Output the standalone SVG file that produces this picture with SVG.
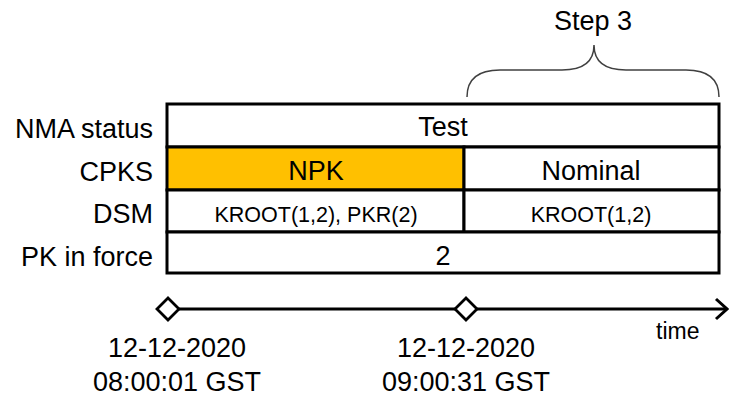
<svg xmlns="http://www.w3.org/2000/svg" width="729" height="397" viewBox="0 0 729 397">
<style>
text{font-family:"Liberation Sans",Arial,sans-serif;fill:#000}
.lbl{font-size:27px;text-anchor:end}
.c{font-size:27px;text-anchor:middle}
.s{font-size:21.5px;text-anchor:middle}
.cell{fill:#fff;stroke:#000;stroke-width:3}
.dia{fill:#fff;stroke:#000;stroke-width:2.8}
</style>
<rect width="729" height="397" fill="#fff"/>
<g id="labels">
<text class="lbl" x="153" y="138">NMA status</text>
<text class="lbl" x="153" y="181">CPKS</text>
<text class="lbl" x="153" y="223">DSM</text>
<text class="lbl" x="153" y="266">PK in force</text>
</g>
<g id="nma-test"><rect class="cell" x="167" y="104" width="552" height="43"/><text class="c" x="443" y="136">Test</text></g>
<g id="cpks-npk"><rect class="cell" x="167" y="147" width="297" height="43" style="fill:#FFC000"/><text class="c" x="316" y="180">NPK</text></g>
<g id="cpks-nominal"><rect class="cell" x="464" y="147" width="255" height="43"/><text class="c" x="591" y="180">Nominal</text></g>
<g id="dsm-left"><rect class="cell" x="167" y="190" width="297" height="42"/><text class="s" x="316" y="222">KROOT(1,2), PKR(2)</text></g>
<g id="dsm-right"><rect class="cell" x="464" y="190" width="255" height="42"/><text class="s" x="591" y="222">KROOT(1,2)</text></g>
<g id="pk-2"><rect class="cell" x="167" y="232" width="552" height="41"/><text class="c" x="443" y="265">2</text></g>
<g id="step3">
<path d="M467,97 Q467,70 500,70 L562,70 Q594,70 594,45 Q594,70 626,70 L686,70 Q719,70 719,97" fill="none" stroke="#404040" stroke-width="1.5"/>
<text class="c" x="593" y="30">Step 3</text>
</g>
<g id="connectors">
<line x1="168" y1="309" x2="726" y2="309" stroke="#000" stroke-width="3"/>
<polyline points="716,299 727,309 716,319" fill="none" stroke="#000" stroke-width="3"/>
</g>
<g id="t1">
<polygon class="dia" points="168,298 179,309 168,320 157,309"/>
<text class="c" x="177" y="357">12-12-2020</text>
<text class="c" x="177" y="391">08:00:01 GST</text>
</g>
<g id="t2">
<polygon class="dia" points="466,298 477,309 466,320 455,309"/>
<text class="c" x="466" y="357">12-12-2020</text>
<text class="c" x="466" y="391">09:00:31 GST</text>
</g>
<text x="656" y="339" style="font-size:23px">time</text>
</svg>
